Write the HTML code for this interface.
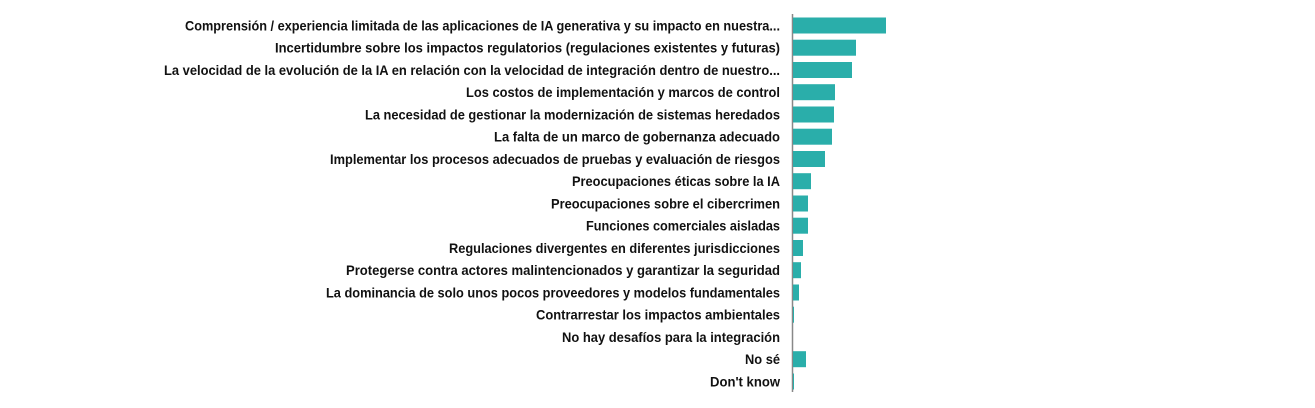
<!DOCTYPE html>
<html><head><meta charset="utf-8"><style>html,body{margin:0;padding:0;background:#fff;}svg{display:block}</style></head>
<body>
<svg width="1315" height="408" xmlns="http://www.w3.org/2000/svg" font-family="Liberation Sans, sans-serif" font-weight="bold" font-size="14" fill="#111">
<line x1="792.5" y1="14" x2="792.5" y2="392" stroke="#888" stroke-width="1.5"/>
<g fill="#2aaeaa">
<rect x="793" y="17.5" width="93" height="16"/>
<rect x="793" y="39.7" width="63" height="16"/>
<rect x="793" y="62" width="59" height="16"/>
<rect x="793" y="84.2" width="42" height="16"/>
<rect x="793" y="106.5" width="41" height="16"/>
<rect x="793" y="128.7" width="39" height="16"/>
<rect x="793" y="151" width="32" height="16"/>
<rect x="793" y="173.2" width="18" height="16"/>
<rect x="793" y="195.5" width="15" height="16"/>
<rect x="793" y="217.7" width="15" height="16"/>
<rect x="793" y="240" width="10" height="16"/>
<rect x="793" y="262.2" width="8" height="16"/>
<rect x="793" y="284.5" width="6" height="16"/>
<rect x="793" y="306.7" width="1" height="16"/>
<rect x="793" y="351.2" width="13" height="16"/>
<rect x="793" y="373.5" width="1" height="16"/>
</g>
<g text-anchor="end">
<text x="780" y="30.5" textLength="595" lengthAdjust="spacingAndGlyphs">Comprensión / experiencia limitada de las aplicaciones de IA generativa y su impacto en nuestra...</text>
<text x="780" y="52.7" textLength="505" lengthAdjust="spacingAndGlyphs">Incertidumbre sobre los impactos regulatorios (regulaciones existentes y futuras)</text>
<text x="780" y="75" textLength="616" lengthAdjust="spacingAndGlyphs">La velocidad de la evolución de la IA en relación con la velocidad de integración dentro de nuestro...</text>
<text x="780" y="97.2" textLength="314" lengthAdjust="spacingAndGlyphs">Los costos de implementación y marcos de control</text>
<text x="780" y="119.5" textLength="415" lengthAdjust="spacingAndGlyphs">La necesidad de gestionar la modernización de sistemas heredados</text>
<text x="780" y="141.7" textLength="286" lengthAdjust="spacingAndGlyphs">La falta de un marco de gobernanza adecuado</text>
<text x="780" y="164" textLength="450" lengthAdjust="spacingAndGlyphs">Implementar los procesos adecuados de pruebas y evaluación de riesgos</text>
<text x="780" y="186.2" textLength="208" lengthAdjust="spacingAndGlyphs">Preocupaciones éticas sobre la IA</text>
<text x="780" y="208.5" textLength="229" lengthAdjust="spacingAndGlyphs">Preocupaciones sobre el cibercrimen</text>
<text x="780" y="230.7" textLength="194" lengthAdjust="spacingAndGlyphs">Funciones comerciales aisladas</text>
<text x="780" y="253" textLength="331" lengthAdjust="spacingAndGlyphs">Regulaciones divergentes en diferentes jurisdicciones</text>
<text x="780" y="275.2" textLength="434" lengthAdjust="spacingAndGlyphs">Protegerse contra actores malintencionados y garantizar la seguridad</text>
<text x="780" y="297.5" textLength="454" lengthAdjust="spacingAndGlyphs">La dominancia de solo unos pocos proveedores y modelos fundamentales</text>
<text x="780" y="319.7" textLength="244" lengthAdjust="spacingAndGlyphs">Contrarrestar los impactos ambientales</text>
<text x="780" y="342" textLength="218" lengthAdjust="spacingAndGlyphs">No hay desafíos para la integración</text>
<text x="780" y="364.2" textLength="35" lengthAdjust="spacingAndGlyphs">No sé</text>
<text x="780" y="386.5" textLength="70" lengthAdjust="spacingAndGlyphs">Don't know</text>
</g>
</svg>
</body></html>
